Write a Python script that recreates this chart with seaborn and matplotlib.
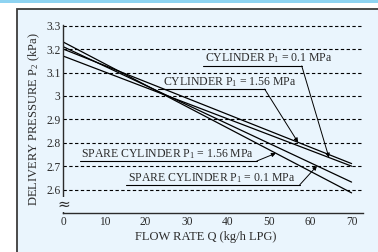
"""Delivery pressure vs flow rate for cylinder / spare cylinder regulators."""

import matplotlib
matplotlib.use("Agg")
import matplotlib.pyplot as plt
from matplotlib.patches import Rectangle
import numpy as np
import pandas as pd
import seaborn as sns

# data
flow = [0, 70]
cylinder_01 = [3.17, 2.70]
cylinder_156 = [3.20, 2.711]
spare_156 = [3.23, 2.586]
spare_01 = [3.21, 2.632]

x_ticks = [0, 10, 20, 30, 40, 50, 60, 70]
y_ticks = [2.6, 2.7, 2.8, 2.9, 3.0, 3.1, 3.2, 3.3]
y_tick_labels = ["2.6", "2.7", "2.8", "2.9", "3", "3.1", "3.2", "3.3"]

PANEL = "#eaf5fd"
INK = "#2b2b2b"


def plot_pressure():
    sns.set_style("white")
    plt.rcParams["font.family"] = ["Liberation Serif", "DejaVu Serif"]
    plt.rcParams["mathtext.fontset"] = "custom"
    plt.rcParams["mathtext.rm"] = "Liberation Serif"
    plt.rcParams["mathtext.it"] = "Liberation Serif:italic"

    df = pd.DataFrame({
        "flow": flow * 4,
        "pressure": cylinder_01 + cylinder_156 + spare_156 + spare_01,
        "series": ["c01"] * 2 + ["c156"] * 2 + ["s156"] * 2 + ["s01"] * 2,
    })

    fig = plt.figure(figsize=(3.78, 2.52), dpi=100)
    fig.patch.set_facecolor("white")
    # light blue stripe at the top and the framed panel, kept behind the axes
    fig.add_artist(Rectangle((0, 1 - 3 / 252), 1, 3 / 252, transform=fig.transFigure,
                             facecolor="#8ed3f1", edgecolor="none", zorder=-5))
    fig.add_artist(Rectangle((16.5 / 378, -0.2), 1.2, 1.2 - 8.5 / 252, transform=fig.transFigure,
                             facecolor=PANEL, edgecolor="#3c3c3c", lw=1.3, zorder=-5))

    ax = fig.add_axes([63.3 / 378, 1 - 213 / 252, (362.7 - 63.3) / 378, (213 - 25.2) / 252])
    ax.set_facecolor("none")

    sns.lineplot(data=df, x="flow", y="pressure", units="series", estimator=None,
                 color="black", lw=0.9, ax=ax, legend=False)

    ax.set_xlim(0, 72.7)
    ax.set_ylim(2.5, 3.302)
    ax.set_xticks(x_ticks)
    ax.set_yticks(y_ticks)
    ax.set_yticklabels(y_tick_labels)
    ax.grid(axis="y", linestyle=(0, (3, 2.2)), color="black", lw=0.8)
    ax.set_axisbelow(True)

    for side in ["top", "right"]:
        ax.spines[side].set_visible(False)
    for side in ["left", "bottom"]:
        ax.spines[side].set_color(INK)
        ax.spines[side].set_linewidth(1.0)
    ax.tick_params(direction="in", length=3, width=0.8, colors=INK, labelsize=8.3, pad=2)

    ax.set_xlabel("FLOW RATE Q (kg/h LPG)", fontsize=9, color=INK, labelpad=2, x=0.475)
    ax.set_ylabel(r"DELIVERY PRESSURE P$_2$ (kPa)", fontsize=9, color=INK, labelpad=3)

    # axis break symbol on the y axis
    ax.text(0, 2.536, "≈", fontsize=11, ha="center", va="center", color=INK,
            family="DejaVu Sans", bbox=dict(facecolor=PANEL, edgecolor="none", pad=0.2),
            clip_on=False)

    # labels: text position, underline (x0, x1, y), arrow tip x, target series
    notes = [
        (r"CYLINDER P$_1$ = 0.1 MPa", 34.4, 3.162, 33.9, 57.9, 3.128, 64.5, cylinder_01),
        (r"CYLINDER P$_1$ = 1.56 MPa", 24.3, 3.060, 23.0, 48.9, 3.029, 57.0, cylinder_156),
        (r"SPARE CYLINDER P$_1$ = 1.56 MPa", 4.3, 2.751, 4.05, 47.0, 2.722, 51.6, spare_156),
        (r"SPARE CYLINDER P$_1$ = 0.1 MPa", 15.6, 2.648, 15.2, 57.4, 2.620, 61.6, spare_01),
    ]
    for text, tx, ty, ux0, ux1, uy, tip, series in notes:
        ax.text(tx, ty, text, fontsize=8.5, color=INK, va="center", ha="left")
        ax.plot([ux0, ux1], [uy, uy], color="black", lw=0.8)
        ax.annotate("", xy=(tip, np.interp(tip, flow, series)), xytext=(ux1, uy),
                    arrowprops=dict(arrowstyle="-|>", color="black", lw=0.7,
                                    mutation_scale=6, shrinkA=0, shrinkB=0))

    fig.savefig("out.png", dpi=100, facecolor=fig.get_facecolor())


if __name__ == "__main__":
    plot_pressure()
